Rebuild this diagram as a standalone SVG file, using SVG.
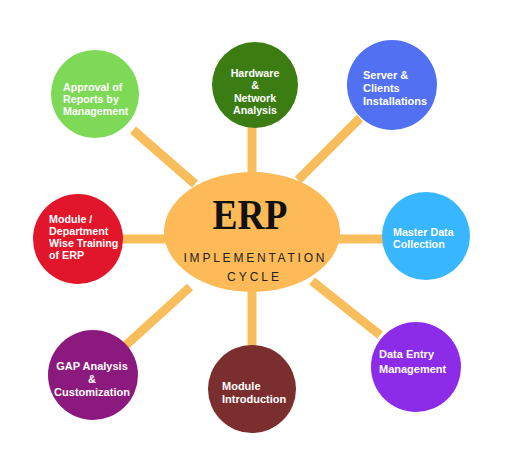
<svg xmlns="http://www.w3.org/2000/svg" width="512" height="471" viewBox="0 0 512 471">
<style>
.c{stroke:#F9BE5C;stroke-width:9;fill:none}
.t{font-family:"Liberation Sans",Arial,sans-serif;font-weight:700;font-size:10.7px;fill:#fff}
.b{font-size:11px}
.m{text-anchor:middle}
</style>
<rect width="512" height="471" fill="#fff"/>
<g id="connectors">
<line class="c" x1="133" y1="130" x2="195" y2="184"/>
<line class="c" x1="252" y1="120" x2="252" y2="175"/>
<line class="c" x1="360" y1="118" x2="298" y2="180"/>
<line class="c" x1="118" y1="239" x2="170" y2="239"/>
<line class="c" x1="335" y1="239" x2="385" y2="239"/>
<line class="c" x1="125" y1="346" x2="190" y2="287"/>
<line class="c" x1="252" y1="285" x2="252" y2="350"/>
<line class="c" x1="380" y1="335" x2="312" y2="281"/>
</g>
<g id="center">
<ellipse cx="252" cy="232" rx="88" ry="60" fill="#FDBA57"/>
<text x="250" y="229" text-anchor="middle" font-family="Liberation Serif,serif" font-weight="700" font-size="42" fill="#111" textLength="75" lengthAdjust="spacingAndGlyphs">ERP</text>
<text x="254" y="262" text-anchor="middle" font-family="Liberation Sans,sans-serif" font-size="12" fill="#222" textLength="141" lengthAdjust="spacing">IMPLEMENTATION</text>
<text x="253" y="281" text-anchor="middle" font-family="Liberation Sans,sans-serif" font-size="12" fill="#222" textLength="52" lengthAdjust="spacing">CYCLE</text>
</g>
<g id="approval">
<circle cx="95" cy="94" r="44" fill="#7ED957"/>
<text class="t" x="63" y="91">Approval of</text>
<text class="t" x="63" y="103">Reports by</text>
<text class="t" x="63" y="115">Management</text>
</g>
<g id="hardware">
<circle cx="255" cy="85" r="43" fill="#3B7D13"/>
<text class="t m" x="255" y="77">Hardware</text>
<text class="t m" x="255" y="89">&amp;</text>
<text class="t m" x="255" y="102">Network</text>
<text class="t m" x="255" y="114">Analysis</text>
</g>
<g id="server">
<circle cx="392" cy="85" r="45" fill="#5271F2"/>
<text class="t b" x="363" y="79">Server &amp;</text>
<text class="t b" x="363" y="92">Clients</text>
<text class="t b" x="363" y="105">Installations</text>
</g>
<g id="module-dept">
<circle cx="78" cy="239" r="45" fill="#E2162B"/>
<text class="t" x="49" y="223">Module /</text>
<text class="t" x="49" y="235">Department</text>
<text class="t" x="49" y="247">Wise Training</text>
<text class="t" x="49" y="259">of ERP</text>
</g>
<g id="master-data">
<circle cx="426" cy="236" r="44" fill="#38B6FF"/>
<text class="t" x="393" y="236">Master Data</text>
<text class="t" x="393" y="248">Collection</text>
</g>
<g id="gap">
<circle cx="93" cy="375" r="45" fill="#8C1A7E"/>
<text class="t b m" x="92" y="370">GAP Analysis</text>
<text class="t b m" x="92" y="383">&amp;</text>
<text class="t b m" x="92" y="396">Customization</text>
</g>
<g id="module-intro">
<circle cx="252" cy="389" r="44" fill="#7B2E2E"/>
<text class="t b" x="222" y="390">Module</text>
<text class="t b" x="222" y="403">Introduction</text>
</g>
<g id="data-entry">
<circle cx="416" cy="367" r="45" fill="#8C2BE8"/>
<text class="t b" x="379" y="358">Data Entry</text>
<text class="t b" x="379" y="373">Management</text>
</g>
</svg>
